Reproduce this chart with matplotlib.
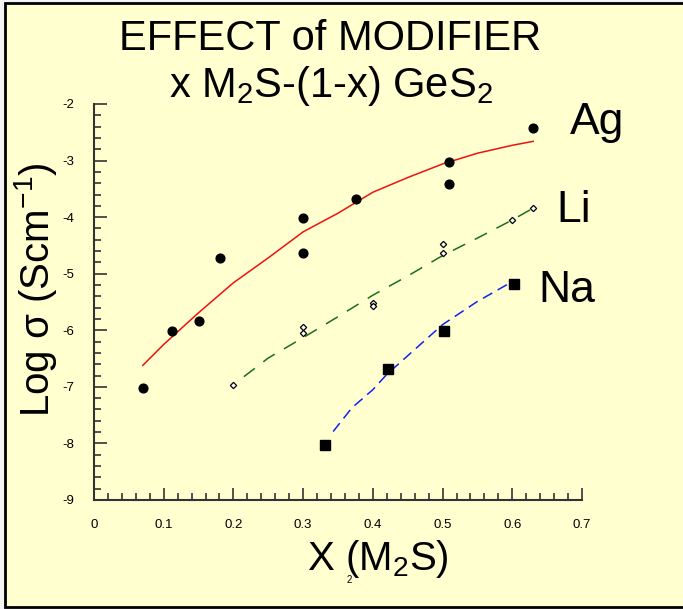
import matplotlib
matplotlib.use("Agg")
import matplotlib.pyplot as plt
from matplotlib.patches import Rectangle
from matplotlib.ticker import MultipleLocator

plt.rcParams['font.family'] = ['Liberation Sans', 'DejaVu Sans']
plt.rcParams['mathtext.fontset'] = 'custom'
plt.rcParams['mathtext.rm'] = 'Liberation Sans'
plt.rcParams['mathtext.default'] = 'regular'

# measured points
ag_x = [0.07, 0.112, 0.151, 0.181, 0.30, 0.30, 0.376, 0.509, 0.509, 0.63]
ag_y = [-7.02, -6.01, -5.83, -4.72, -4.01, -4.63, -3.68, -3.02, -3.41, -2.42]
li_x = [0.20, 0.30, 0.30, 0.40, 0.40, 0.50, 0.50, 0.60, 0.63]
li_y = [-6.96, -5.95, -6.05, -5.51, -5.57, -4.47, -4.63, -4.05, -3.84]
na_x = [0.332, 0.422, 0.502, 0.603]
na_y = [-8.02, -6.68, -6.02, -5.18]

# fitted curves
ag_fit_x = [0.07, 0.10, 0.15, 0.20, 0.25, 0.30, 0.35, 0.40, 0.45, 0.50, 0.55, 0.60, 0.63]
ag_fit_y = [-6.62, -6.25, -5.69, -5.16, -4.72, -4.26, -3.93, -3.56, -3.30, -3.06, -2.87, -2.73, -2.66]
li_fit_x = [0.215, 0.25, 0.30, 0.35, 0.40, 0.45, 0.50, 0.55, 0.60, 0.63]
li_fit_y = [-6.82, -6.49, -6.13, -5.76, -5.38, -5.04, -4.68, -4.37, -4.05, -3.84]
na_fit_x = [0.343, 0.37, 0.40, 0.42, 0.45, 0.50, 0.55, 0.60]
na_fit_y = [-7.79, -7.37, -7.05, -6.78, -6.45, -5.90, -5.49, -5.14]

bg = '#FFFFD0'
fig = plt.figure(figsize=(6.83, 6.09), dpi=100, facecolor='#F4F4F4')
fig.patches.append(Rectangle((5 / 683, 2 / 609), 1.0, 604 / 609, transform=fig.transFigure,
                             facecolor=bg, edgecolor='black', linewidth=2, zorder=-1))

ax = fig.add_axes([94 / 683, 1 - 500 / 609, 488 / 683, 396 / 609])
ax.set_facecolor('none')

ax.plot(ag_fit_x, ag_fit_y, color='#EE1111', lw=1.1)
ax.plot(li_fit_x, li_fit_y, color='#1A6E1A', lw=1.1, dashes=(9, 7))
ax.plot(na_fit_x, na_fit_y, color='#1122EE', lw=1.1, dashes=(7, 4))

ax.plot(ag_x, ag_y, 'o', color='black', ms=6.3, ls='none')
ax.plot(li_x, li_y, 'D', mfc='white', mec='black', ms=3.2, mew=0.9, ls='none')
ax.plot(na_x, na_y, 's', color='black', ms=7, ls='none')

ax.set_xlim(0, 0.7)
ax.set_ylim(-9, -2)
ax.xaxis.set_minor_locator(MultipleLocator(0.02))
ax.yaxis.set_minor_locator(MultipleLocator(0.2))
ax.set_xticks([0, 0.1, 0.2, 0.3, 0.4, 0.5, 0.6, 0.7])
ax.set_xticklabels(['0', '0.1', '0.2', '0.3', '0.4', '0.5', '0.6', '0.7'])
ax.set_yticks([-9, -8, -7, -6, -5, -4, -3, -2])
ax.set_yticklabels(['-9', '-8', '-7', '-6', '-5', '-4', '-3', '-2'])

for s in ['top', 'right']:
    ax.spines[s].set_visible(False)
for s in ['left', 'bottom']:
    ax.spines[s].set_color('#333333')
    ax.spines[s].set_linewidth(1.5)
ax.tick_params(which='both', direction='in', color='#333333', width=1.2, labelsize=9.5)
ax.tick_params(which='major', length=9, pad=14)
ax.tick_params(which='minor', length=5)

ax.set_xlabel('X (M$_2$S)', fontsize=29)
ax.xaxis.set_label_coords(0.582, -0.095)
ax.set_ylabel('Log σ (Scm$^{-1}$)', fontsize=29)
ax.yaxis.set_label_coords(-0.072, 0.53)

ax.text(0.682, -2.33, 'Ag', fontsize=32, va='center', ha='left')
ax.text(0.663, -3.88, 'Li', fontsize=32, va='center', ha='left')
ax.text(0.638, -5.30, 'Na', fontsize=32, va='center', ha='left')

fig.text(330 / 683, 1 - 50 / 609, 'EFFECT of MODIFIER', fontsize=30, ha='center', va='baseline')
fig.text(331 / 683, 1 - 97 / 609, 'x M$_2$S-(1-x) GeS$_2$', fontsize=30, ha='center', va='baseline')
# stray subscript glyph that sits under the bracket in the original
fig.text(349 / 683, 1 - 580 / 609, '2', fontsize=7, ha='center', va='center')

fig.savefig('out.png', dpi=100, facecolor=fig.get_facecolor())
